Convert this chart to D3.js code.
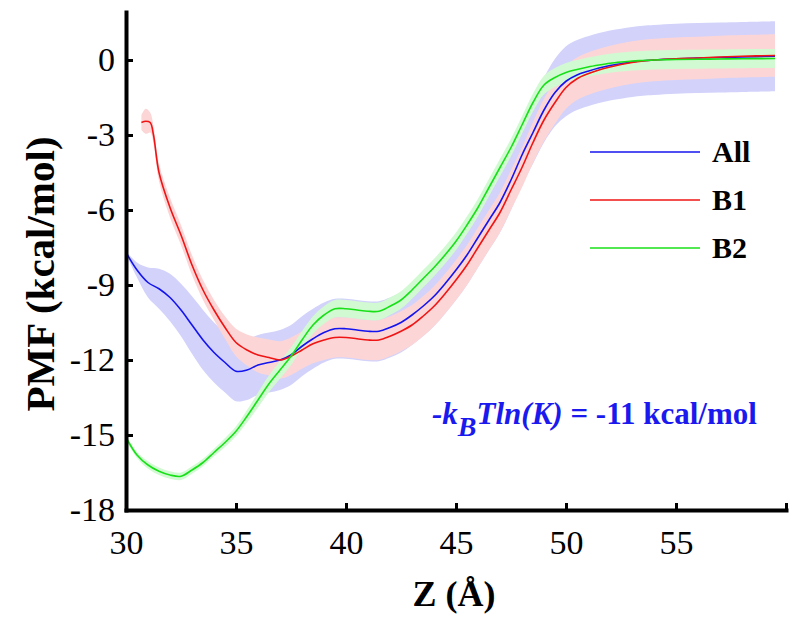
<!DOCTYPE html>
<html><head><meta charset="utf-8">
<script src="https://cdn.jsdelivr.net/npm/d3@7"></script>
<style>body{margin:0;background:#fff}</style>
</head><body>
<svg id="c" width="800" height="627"></svg>
<script>
// ---- data ----
const zAll = [30,30.5,31,31.5,32,32.5,33,33.5,34,34.5,35,35.5,36,36.5,37,37.5,38,38.5,39,39.5,40,40.5,41,41.5,42,42.5,43,43.5,44,44.5,45,45.5,46,46.5,47,47.5,48,48.5,49,49.5,50,50.5,51,51.5,52,52.5,53,53.5,54,55,56,57,58,59.5];
const pmfAll = [-7.7,-8.4,-8.9,-9.15,-9.5,-10.0,-10.6,-11.2,-11.7,-12.1,-12.45,-12.4,-12.2,-12.1,-12.0,-11.8,-11.45,-11.15,-10.9,-10.75,-10.75,-10.8,-10.85,-10.85,-10.7,-10.5,-10.2,-9.85,-9.45,-8.95,-8.4,-7.8,-7.1,-6.4,-5.7,-4.8,-3.8,-2.9,-2.0,-1.3,-0.85,-0.6,-0.45,-0.32,-0.22,-0.15,-0.08,-0.03,0.0,0.05,0.08,0.1,0.12,0.15];
const errAll = [0.05,0.3,0.6,0.8,0.95,1.05,1.15,1.2,1.2,1.2,1.2,1.2,1.2,1.2,1.2,1.2,1.2,1.2,1.2,1.2,1.2,1.2,1.2,1.2,1.2,1.2,1.2,1.2,1.2,1.2,1.2,1.2,1.2,1.2,1.2,1.2,1.2,1.25,1.3,1.35,1.4,1.4,1.4,1.4,1.4,1.4,1.4,1.4,1.4,1.4,1.4,1.4,1.4,1.4];

const zB1 = [30.7,30.9,31.1,31.25,31.5,32,32.5,33,33.5,34,34.5,35,35.5,36,36.5,37,37.5,38,38.5,39,39.5,40,40.5,41,41.5,42,42.5,43,43.5,44,44.5,45,45.5,46,46.5,47,47.5,48,48.5,49,49.5,50,50.5,51,51.5,52,52.5,53,53.5,54,55,56,57,58,59.5];
const pmfB1 = [-2.5,-2.45,-2.5,-3.0,-4.5,-5.9,-7.0,-8.2,-9.2,-10.0,-10.7,-11.3,-11.6,-11.8,-11.9,-12.0,-11.85,-11.6,-11.35,-11.2,-11.1,-11.1,-11.15,-11.2,-11.2,-11.05,-10.85,-10.6,-10.25,-9.85,-9.35,-8.8,-8.2,-7.5,-6.8,-6.1,-5.2,-4.3,-3.3,-2.4,-1.7,-1.1,-0.75,-0.55,-0.4,-0.28,-0.18,-0.1,-0.04,0.0,0.05,0.08,0.12,0.15,0.18];
const errB1 = [0.3,0.5,0.4,0.35,0.35,0.4,0.4,0.4,0.4,0.4,0.45,0.55,0.62,0.7,0.72,0.75,0.75,0.75,0.78,0.8,0.8,0.8,0.8,0.8,0.8,0.8,0.8,0.8,0.8,0.8,0.8,0.8,0.8,0.8,0.8,0.8,0.8,0.8,0.82,0.85,0.85,0.85,0.85,0.85,0.85,0.85,0.85,0.85,0.85,0.85,0.85,0.85,0.85,0.85,0.85];

const zB2 = zAll;
const pmfB2 = [-15.1,-15.8,-16.2,-16.45,-16.6,-16.65,-16.4,-16.1,-15.7,-15.3,-14.85,-14.25,-13.6,-12.95,-12.4,-11.85,-11.2,-10.6,-10.2,-9.95,-9.95,-10.0,-10.05,-10.05,-9.85,-9.6,-9.2,-8.75,-8.3,-7.8,-7.25,-6.6,-5.9,-5.1,-4.3,-3.5,-2.6,-1.7,-1.0,-0.7,-0.5,-0.38,-0.28,-0.2,-0.13,-0.08,-0.04,-0.02,0.0,0.02,0.03,0.04,0.05,0.06];
const errB2 = [0.1,0.12,0.15,0.15,0.15,0.15,0.15,0.15,0.15,0.18,0.2,0.25,0.3,0.33,0.35,0.35,0.35,0.35,0.35,0.35,0.35,0.35,0.35,0.35,0.35,0.35,0.35,0.35,0.35,0.35,0.35,0.35,0.35,0.35,0.35,0.35,0.35,0.36,0.37,0.38,0.38,0.38,0.38,0.38,0.38,0.38,0.38,0.38,0.38,0.38,0.38,0.38,0.38,0.38];

const seriesNames = ["All","B1","B2"];
const xTicks = [30,35,40,45,50,55,60];
const yTicks = [0,-3,-6,-9,-12,-15,-18];

// ---- drawing ----
const svg = d3.select("#c");
const x = d3.scaleLinear().domain([30,60]).range([126,786]);
const y = d3.scaleLinear().domain([-18,1.92]).range([510,12]);

const series = [
  {name:"All", z:zAll, v:pmfAll, e:errAll, line:"#1414ee", band:"#d2d2fb"},
  {name:"B1",  z:zB1,  v:pmfB1,  e:errB1,  line:"#f01414", band:"#fcd6d6"},
  {name:"B2",  z:zB2,  v:pmfB2,  e:errB2,  line:"#18e018", band:"#d2fad2"}
];

const curve = d3.curveCatmullRom.alpha(0.5);
series.forEach(s => {
  const pts = s.z.map((z,i)=>({z, v:s.v[i], e:s.e[i]}));
  s.pts = pts;
  svg.append("path")
    .attr("d", d3.area().curve(curve).x(d=>x(d.z)).y0(d=>y(d.v-d.e)).y1(d=>y(d.v+d.e))(pts))
    .attr("fill", s.band).attr("stroke","none");
});
series.forEach(s => {
  svg.append("path")
    .attr("d", d3.line().curve(curve).x(d=>x(d.z)).y(d=>y(d.v))(s.pts))
    .attr("fill","none").attr("stroke", s.line).attr("stroke-width",1.6);
});

// axes
const gx = svg.append("g").attr("transform","translate(0,510)")
  .call(d3.axisBottom(x).tickValues(xTicks).tickSize(-7).tickSizeOuter(0).tickPadding(20)
    .tickFormat(d => d===60 ? "" : String(d)));
const gy = svg.append("g").attr("transform","translate(126,0)")
  .call(d3.axisLeft(y).tickValues(yTicks).tickSize(-7).tickSizeOuter(0).tickPadding(11)
    .tickFormat(d => String(d)));
[gx,gy].forEach(g=>{
  g.select(".domain").attr("stroke","#000").attr("stroke-width",4).attr("stroke-linecap","square");
  g.selectAll(".tick line").attr("stroke","#000").attr("stroke-width",3);
  g.selectAll(".tick text").attr("font-family","'Liberation Serif', 'Times New Roman', serif")
    .attr("font-size",34).attr("fill","#000");
});

// axis titles
svg.append("text").attr("x",454).attr("y",606).attr("text-anchor","middle")
  .attr("font-family","'Liberation Serif', serif").attr("font-weight","bold").attr("font-size",36)
  .text("Z (Å)");
svg.append("text").attr("transform","translate(54,274) rotate(-90)").attr("text-anchor","middle")
  .attr("font-family","'Liberation Serif', serif").attr("font-weight","bold").attr("font-size",41)
  .text("PMF (kcal/mol)");

// legend
const leg = svg.append("g");
series.forEach((s,i)=>{
  const ly = 152 + i*48;
  leg.append("line").attr("x1",590).attr("x2",700).attr("y1",ly).attr("y2",ly)
    .attr("stroke",s.line).attr("stroke-width",1.6);
  leg.append("text").attr("x",712).attr("y",ly+10)
    .attr("font-family","'Liberation Serif', serif").attr("font-weight","bold").attr("font-size",30)
    .text(seriesNames[i]);
});

// annotation
const ann = svg.append("text").attr("x",432).attr("y",424)
  .attr("font-family","'Liberation Serif', serif").attr("font-weight","bold").attr("font-size",31)
  .attr("fill","#1a1aee");
ann.append("tspan").attr("font-style","italic").text("-k");
ann.append("tspan").attr("font-style","italic").attr("font-size",28).attr("dy",12).text("B");
ann.append("tspan").attr("font-style","italic").attr("dy",-12).text("Tln(K)");
ann.append("tspan").text(" = -11 kcal/mol");
</script>
</body></html>
